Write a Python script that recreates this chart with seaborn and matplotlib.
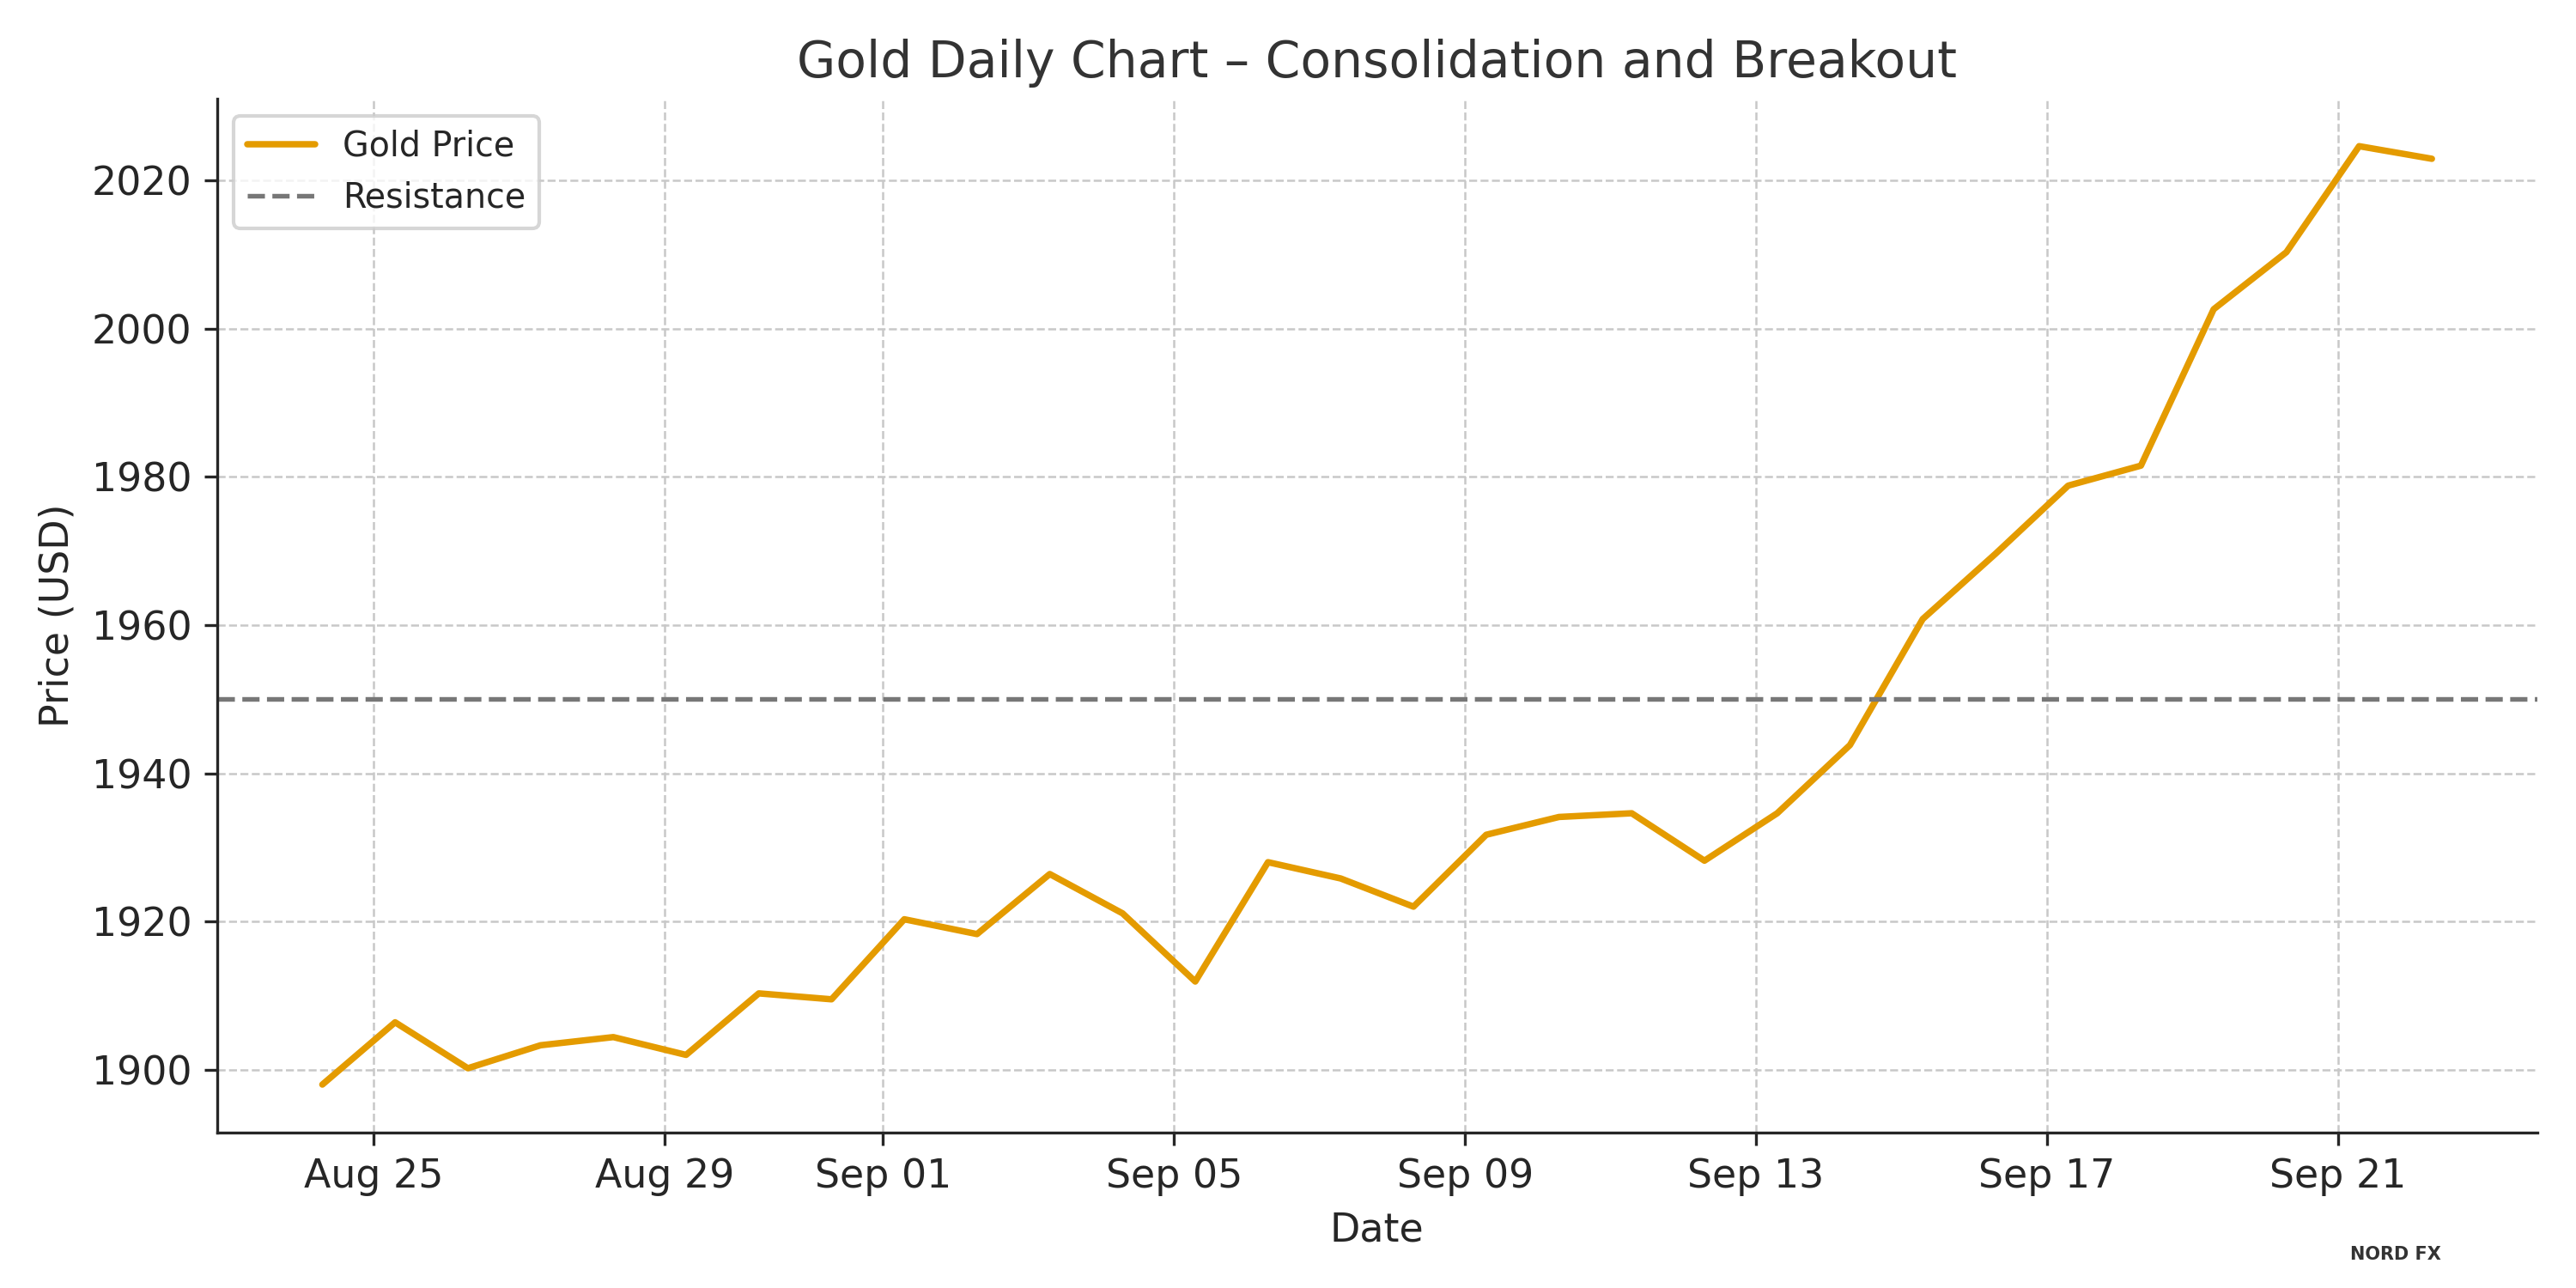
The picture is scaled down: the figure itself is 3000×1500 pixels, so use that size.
import pandas as pd
import numpy as np
import seaborn as sns
import matplotlib.pyplot as plt
import matplotlib.dates as mdates

# Daily gold closes, Aug 24 - Sep 22
dates = pd.date_range("2023-08-24 07:00", periods=30, freq="D")
prices = [1898.0, 1906.4, 1900.2, 1903.3, 1904.4, 1902.0, 1910.3, 1909.5, 1920.3, 1918.3,
          1926.4, 1921.1, 1911.9, 1928.0, 1925.8, 1922.0, 1931.7, 1934.1, 1934.6, 1928.2,
          1934.6, 1943.8, 1960.8, 1969.6, 1978.8, 1981.5, 2002.6, 2010.3, 2024.6, 2022.9]
resistance = 1950

df = pd.DataFrame({"Date": dates, "Price": prices})

sns.set_style("ticks")
fig, ax = plt.subplots(figsize=(10, 5), dpi=300)
sns.lineplot(data=df, x="Date", y="Price", ax=ax, color="#E49B00", linewidth=1.8, label="Gold Price")
ax.axhline(resistance, color="#777777", linestyle="--", linewidth=1.3, label="Resistance")

ax.xaxis.set_major_locator(mdates.DayLocator(bymonthday=[1, 5, 9, 13, 17, 21, 25, 29]))
ax.xaxis.set_major_formatter(mdates.DateFormatter("%b %d"))
ax.grid(True, linestyle="--", linewidth=0.6, color="#c8c8c8")
ax.set_ylim(1891.5, 2031)
ax.spines["top"].set_visible(False)
ax.spines["right"].set_visible(False)
ax.tick_params(labelsize=11)

ax.set_title("Gold Daily Chart – Consolidation and Breakout", fontsize=14, color="#333333")
ax.set_xlabel("Date", fontsize=11)
ax.set_ylabel("Price (USD)", fontsize=11)
ax.legend(loc="upper left", fontsize=9.5, frameon=True)

fig.text(0.93, 0.022, "NORD FX", fontsize=5, fontweight="bold", color="#333333", ha="center")
plt.tight_layout()
fig.savefig("out.png", dpi=300)
